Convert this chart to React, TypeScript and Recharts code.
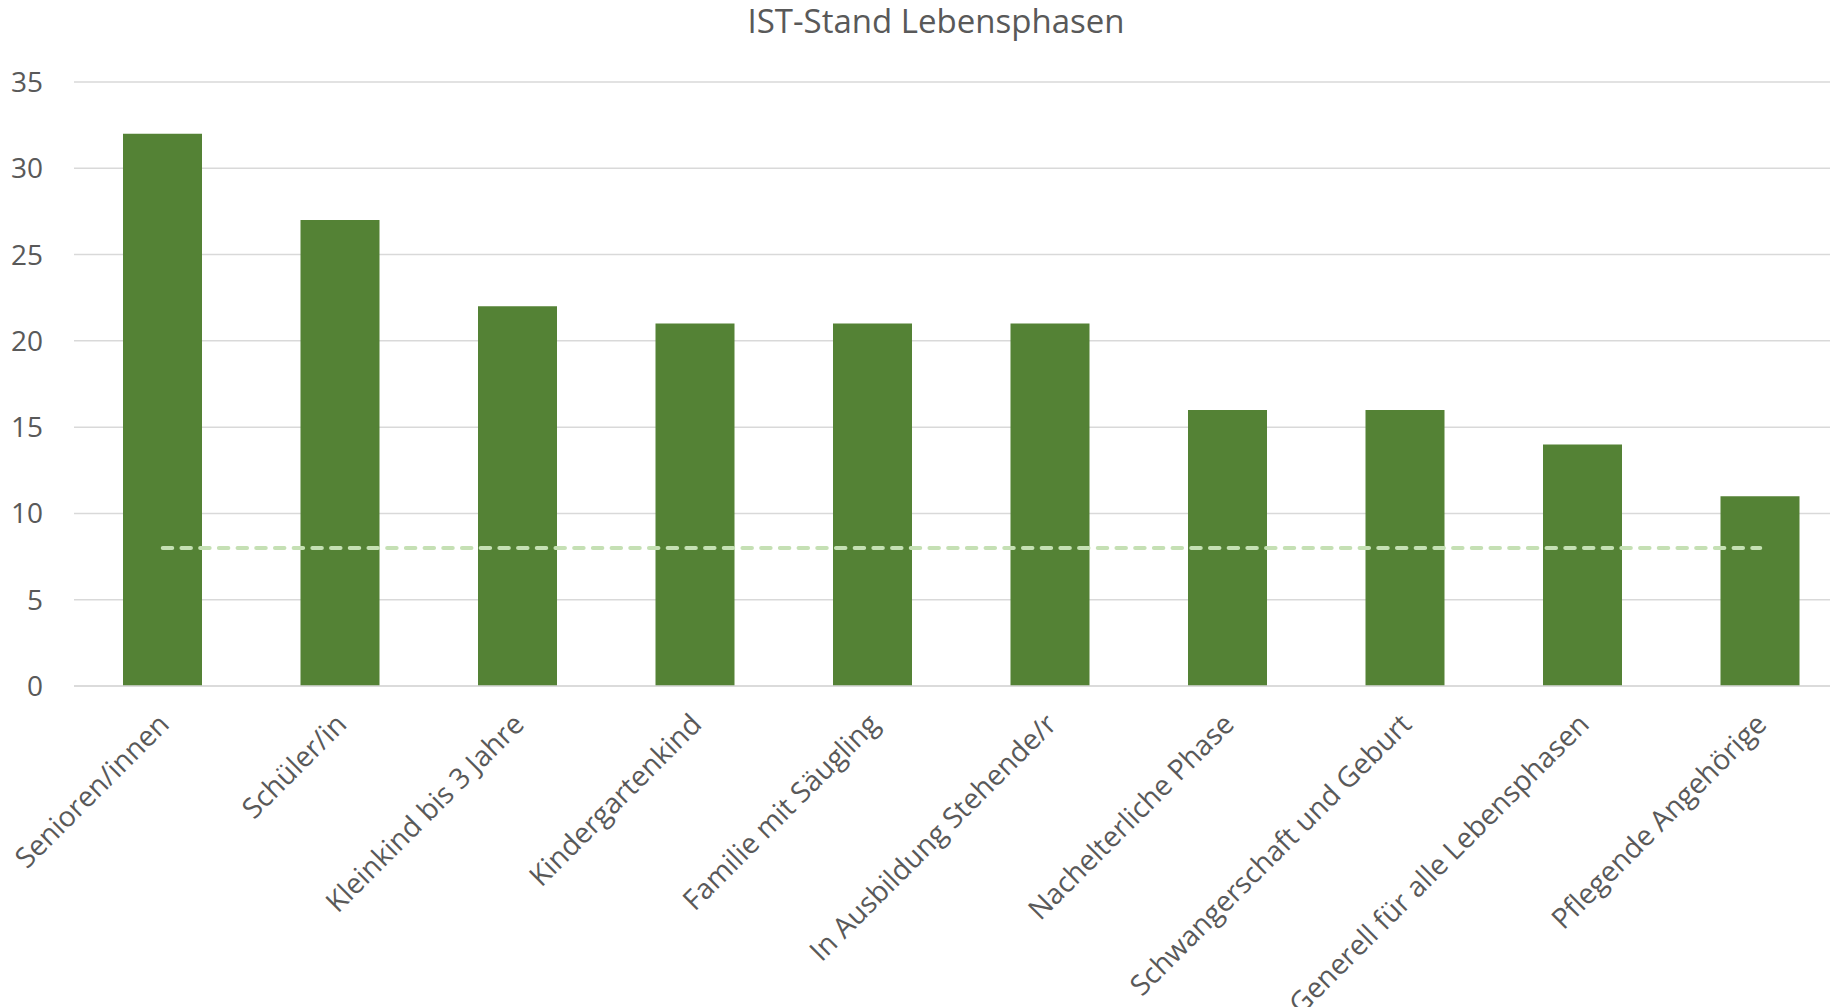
import React from "react";
import { ComposedChart, Bar, Line, XAxis, YAxis, CartesianGrid } from "recharts";

const categories = [
  "Senioren/innen",
  "Schüler/in",
  "Kleinkind bis 3 Jahre",
  "Kindergartenkind",
  "Familie mit Säugling",
  "In Ausbildung Stehende/r",
  "Nachelterliche Phase",
  "Schwangerschaft und Geburt",
  "Generell für alle Lebensphasen",
  "Pflegende Angehörige",
];
const values = [32, 27, 22, 21, 21, 21, 16, 16, 14, 11];
const targetLine = [8, 8, 8, 8, 8, 8, 8, 8, 8, 8];
const yTicks = [0, 5, 10, 15, 20, 25, 30, 35];
const title = "IST-Stand Lebensphasen";

const data = categories.map((c, i) => ({ name: c, value: values[i], target: targetLine[i] }));

const FONT = "'Open Sans', sans-serif";
const TEXT = "#595959";

const CatTick = (props: any) => {
  const { x, y, payload } = props;
  const tx = x + 8;
  const ty = y + 40;
  return (
    <text
      x={tx}
      y={ty}
      transform={`rotate(-45, ${tx}, ${ty})`}
      textAnchor="end"
      fill={TEXT}
      fontSize={28.3}
      fontFamily={FONT}
    >
      {payload.value}
    </text>
  );
};

export default function App() {
  return (
    <div
      style={{
        position: "absolute",
        left: 0,
        top: 0,
        width: 1830,
        height: 1007,
        overflow: "hidden",
        background: "#fff",
      }}
    >
      <div
        style={{
          position: "absolute",
          left: 636,
          top: 0,
          width: 600,
          textAlign: "center",
          whiteSpace: "nowrap",
          fontFamily: FONT,
          fontSize: 33,
          color: TEXT,
          lineHeight: "42px",
        }}
      >
        {title}
      </div>
      <ComposedChart
        width={1850}
        height={1007}
        data={data}
        margin={{ top: 82, right: 1, bottom: 0, left: 0 }}
        barCategoryGap="27.8%"
      >
        <CartesianGrid vertical={false} stroke="#D9D9D9" strokeWidth={1.5} />
        <XAxis
          dataKey="name"
          interval={0}
          height={321}
          tickLine={false}
          tickSize={0}
          tickMargin={0}
          axisLine={{ stroke: "#D9D9D9", strokeWidth: 1.5 }}
          tick={<CatTick />}
        />
        <YAxis
          width={74}
          domain={[0, 35]}
          ticks={yTicks}
          interval={0}
          axisLine={false}
          tickLine={false}
          tickSize={0}
          tickMargin={31}
          tick={{ fill: TEXT, fontSize: 28, fontFamily: FONT }}
        />
        <Bar dataKey="value" fill="#548235" barSize={79} isAnimationActive={false} />
        <Line
          dataKey="target"
          stroke="#C5E0B4"
          strokeWidth={4}
          strokeDasharray="9.5 9.2"
          strokeLinecap="round"
          dot={false}
          activeDot={false}
          isAnimationActive={false}
        />
      </ComposedChart>
    </div>
  );
}
